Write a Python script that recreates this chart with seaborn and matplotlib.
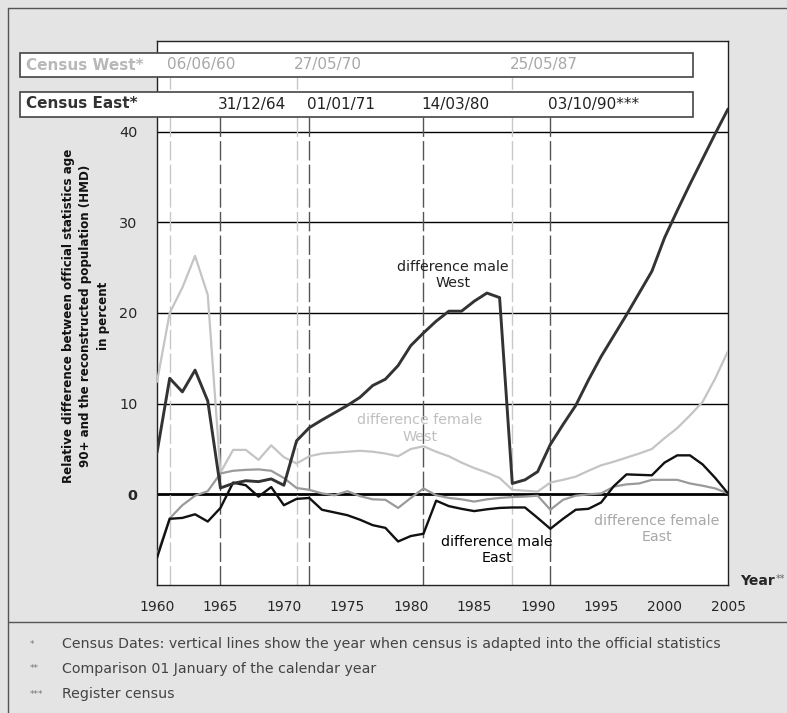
import pandas as pd
import matplotlib
matplotlib.use("Agg")
import matplotlib.pyplot as plt
import matplotlib.transforms as mtransforms
from matplotlib.patches import Rectangle
from matplotlib.lines import Line2D
import seaborn as sns

# data (percent)
years = list(range(1960, 2006))
male_west = [4.6, 12.8, 11.3, 13.7, 10.3, 0.7, 1.2, 1.5, 1.4, 1.7,
             1.0, 5.9, 7.35, 8.2, 9.0, 9.8, 10.7, 12.0, 12.7, 14.2,
             16.4, 17.8, 19.1, 20.2, 20.2, 21.3, 22.2, 21.7, 1.2, 1.6,
             2.5, 5.5, 7.7, 9.8, 12.6, 15.2, 17.5, 19.8, 22.2, 24.6,
             28.3, 31.3, 34.2, 37.0, 39.8, 42.5]
male_east = [-7.0, -2.7, -2.6, -2.2, -3.0, -1.5, 1.3, 1.0, -0.25, 0.8,
             -1.2, -0.5, -0.4, -1.7, -2.0, -2.3, -2.8, -3.4, -3.7, -5.2,
             -4.6, -4.35, -0.7, -1.3, -1.6, -1.85, -1.65, -1.5, -1.45, -1.45,
             -2.6, -3.8, -2.7, -1.7, -1.6, -0.9, 0.9, 2.2, 2.15, 2.1,
             3.5, 4.3, 4.3, 3.3, 1.8, 0.1]
female_west = [12.4, 20.0, 22.8, 26.3, 22.0, 2.4, 4.9, 4.9, 3.8, 5.4,
               4.1, 3.4, 4.2, 4.5, 4.6, 4.7, 4.8, 4.7, 4.5, 4.2,
               5.0, 5.3, 4.7, 4.2, 3.5, 2.9, 2.4, 1.8, 0.5, 0.4,
               0.3, 1.3, 1.6, 1.95, 2.6, 3.2, 3.6, 4.05, 4.5, 5.0,
               6.2, 7.3, 8.7, 10.2, 12.8, 15.8]
female_east = [-6.7, -2.65, -1.2, -0.15, 0.35, 2.3, 2.6, 2.7, 2.75, 2.6,
               1.8, 0.7, 0.5, 0.1, -0.1, 0.35, -0.2, -0.55, -0.6, -1.5,
               -0.4, 0.65, -0.1, -0.4, -0.55, -0.8, -0.55, -0.4, -0.3, -0.25,
               -0.15, -1.7, -0.6, -0.15, 0.0, 0.1, 0.85, 1.1, 1.2, 1.6,
               1.6, 1.6, 1.2, 0.95, 0.65, 0.1]

census_west_year = [1961, 1971, 1988]
census_west_label = ["06/06/60", "27/05/70", "25/05/87"]
census_east_year = [1965, 1972, 1981, 1991]
census_east_label = ["31/12/64", "01/01/71", "14/03/80", "03/10/90***"]

notes_mark = ["*", "**", "***"]
notes_text = ["Census Dates: vertical lines show the year when census is adapted into the official statistics",
              "Comparison 01 January of the calendar year",
              "Register census"]

df = pd.DataFrame({"Year": years, "male_west": male_west, "male_east": male_east,
                   "female_west": female_west, "female_east": female_east})

sns.set_style("white")
plt.rcParams["font.family"] = ["DejaVu Sans"]

W, H = 787, 713
def fx(px):
    return px / W
def fy(py):
    return 1 - py / H

fig = plt.figure(figsize=(W / 100, H / 100), dpi=100, facecolor="#e4e4e4")
ax = fig.add_axes([fx(157), fy(585), (728 - 157) / W, (585 - 41) / H])
ax.set_facecolor("white")

# grid
for v in [10, 20, 30, 40]:
    ax.axhline(v, color="black", lw=1, zorder=1)
ax.axhline(0, color="black", lw=2, zorder=1)

# census lines
for yr in census_west_year:
    ax.axvline(yr, ymax=(585 - 77) / 544, color="#c8c8c8", lw=1, ls=(0, (14, 3)), zorder=1)
for yr in census_east_year:
    ax.axvline(yr, ymax=(585 - 117) / 544, color="#555555", lw=1, ls=(0, (14, 3)), zorder=1)

sns.lineplot(data=df, x="Year", y="female_west", color="#c4c4c4", lw=1.6, ax=ax, zorder=3)
sns.lineplot(data=df, x="Year", y="female_east", color="#9a9a9a", lw=1.6, ax=ax, zorder=3)
sns.lineplot(data=df, x="Year", y="male_east", color="#111111", lw=1.7, ax=ax, zorder=4)
sns.lineplot(data=df, x="Year", y="male_west", color="#333333", lw=2.1, ax=ax, zorder=5)

ax.set_xlim(1960, 2005)
ax.set_ylim(-10, 50)
ax.set_xlabel("")
ax.set_ylabel("")

ax.set_xticks(range(1960, 2006, 5))
ax.set_xticks(range(1960, 2006), minor=True)
ax.tick_params(axis="x", which="major", direction="inout", length=10, width=1,
               color="#222222", labelsize=10, pad=6)
ax.tick_params(axis="x", which="minor", direction="out", length=4, width=1, color="#222222")
ax.set_yticks([-10, 0, 10, 20, 30, 40])
ax.set_yticklabels(["", "0", "10", "20", "30", "40"])
ax.tick_params(axis="y", direction="out", length=5, width=1, color="#222222",
               labelsize=10.4, pad=9)
ax.get_yticklabels()[1].set_fontweight("bold")
for s in ax.spines.values():
    s.set_color("#222222")
    s.set_linewidth(1)

# series labels
lab = dict(ha="center", va="center", fontsize=10.3, linespacing=1.2, zorder=6)
ax.text(1983.3, 24.2, "difference male\nWest", color="#222222", **lab)
ax.text(1980.7, 7.25, "difference female\nWest", color="#c0c0c0", **lab)
ax.text(1986.8, -6.15, "difference male\nEast", color="black", **lab)
ax.text(1999.4, -3.8, "difference female\nEast", color="#a8a8a8", **lab)

# census boxes on top
blend = mtransforms.blended_transform_factory(ax.transData, fig.transFigure)
fig.add_artist(Rectangle((fx(20), fy(77)), (693 - 20) / W, 24 / H, transform=fig.transFigure,
                         facecolor="white", edgecolor="#444444", lw=1.2, zorder=5))
fig.add_artist(Rectangle((fx(20), fy(117)), (693 - 20) / W, 25 / H, transform=fig.transFigure,
                         facecolor="white", edgecolor="#444444", lw=1.2, zorder=5))
fig.text(fx(26), fy(65), "Census West*", color="#b8b8b8", fontsize=11, fontweight="bold",
         va="center", zorder=6)
fig.text(fx(26), fy(104), "Census East*", color="#333333", fontsize=11, fontweight="bold",
         va="center", zorder=6)
for yr, s in zip(census_west_year, census_west_label):
    fig.text(yr - 0.2, fy(65), s, transform=blend, color="#a8a8a8", fontsize=11,
             va="center", zorder=6)
for yr, s in zip(census_east_year, census_east_label):
    fig.text(yr - 0.2, fy(104), s, transform=blend, color="#222222", fontsize=11,
             va="center", zorder=6)

# y label
fig.text(fx(86), fy(316),
         "Relative difference between official statistics age\n"
         "90+ and the reconstructed population (HMD)\nin percent",
         rotation=90, ha="center", va="center", multialignment="center",
         fontsize=8.6, fontweight="bold", linespacing=1.4, color="#111111")

fig.text(fx(740), fy(581), "Year", fontsize=10, fontweight="bold", va="center")
fig.text(fx(776), fy(579), "**", fontsize=7, color="#666666", va="center")

# frame and notes
fig.add_artist(Line2D([fx(8), fx(8)], [fy(8), 0], color="#555555", lw=1))
fig.add_artist(Line2D([fx(8), 1], [fy(8), fy(8)], color="#555555", lw=1))
fig.add_artist(Line2D([fx(8), 1], [fy(622), fy(622)], color="#555555", lw=1))
for i, (m, t) in enumerate(zip(notes_mark, notes_text)):
    yy = fy(644 + 25 * i)
    fig.text(fx(30), yy, m, fontsize=6.5, color="#777777", va="center")
    fig.text(fx(62), yy, t, fontsize=10.2, color="#444444", va="center")

fig.savefig("out.png", dpi=100, facecolor=fig.get_facecolor())
